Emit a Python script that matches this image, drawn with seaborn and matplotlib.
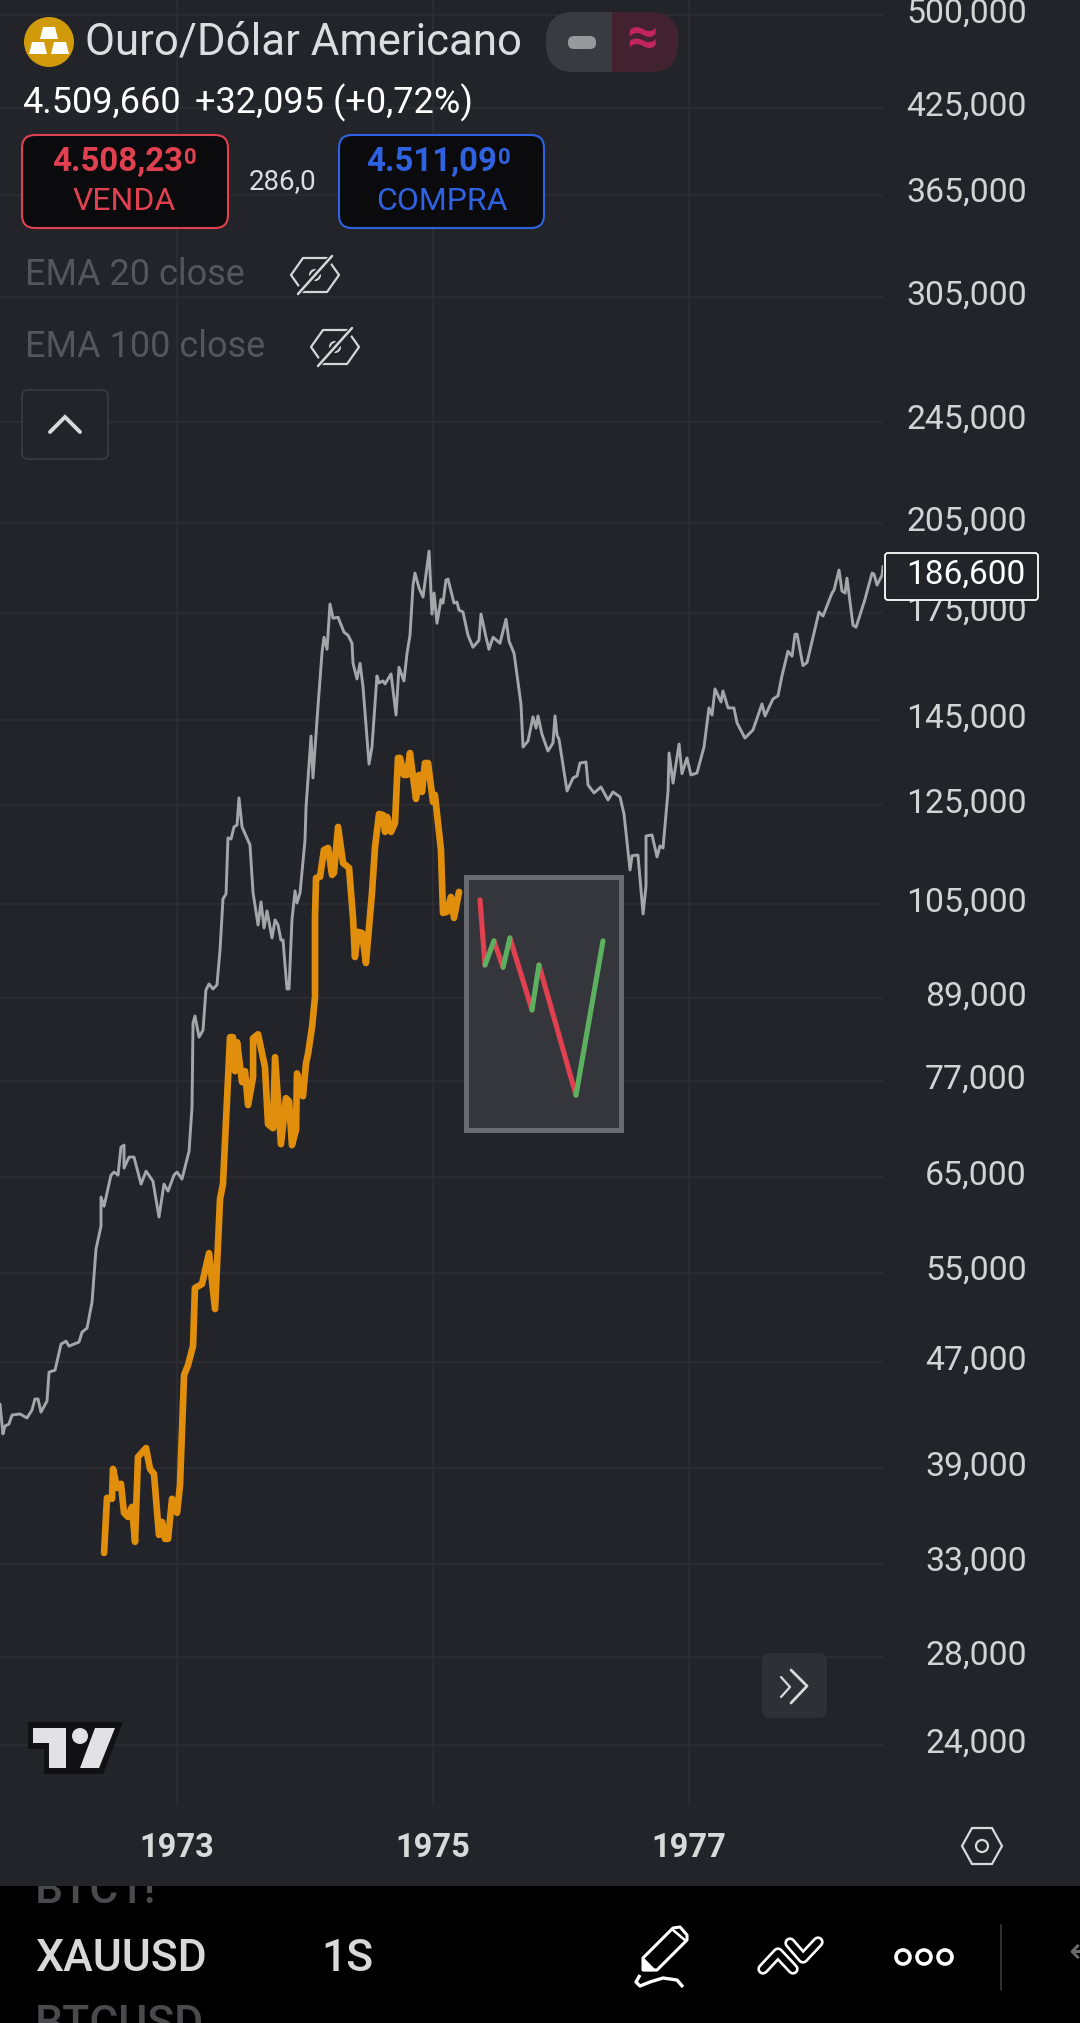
import matplotlib
matplotlib.use('Agg')
import matplotlib.pyplot as plt
from matplotlib.patches import Rectangle, FancyBboxPatch, Circle, Polygon
from matplotlib.ticker import FixedLocator, FixedFormatter, NullLocator
from matplotlib.transforms import ScaledTranslation
import pandas as pd
import seaborn as sns

BG = '#22242a'
GRID = '#2d2f35'

# weekly close of the grey comparison symbol
grey_years = [1971.617, 1971.640, 1971.656, 1971.687, 1971.711, 1971.773, 1971.828, 1971.867, 1971.890, 1971.914,
              1971.937, 1971.984, 1972.000, 1972.047, 1972.094, 1972.133, 1972.156, 1972.234, 1972.258, 1972.297,
              1972.336, 1972.367, 1972.406, 1972.406, 1972.430, 1972.484, 1972.508, 1972.539, 1972.562, 1972.586,
              1972.586, 1972.625, 1972.664, 1972.719, 1972.758, 1972.812, 1972.859, 1972.898, 1972.930, 1972.976,
              1973.000, 1973.039, 1973.094, 1973.117, 1973.125, 1973.140, 1973.172, 1973.203, 1973.226, 1973.250,
              1973.281, 1973.312, 1973.336, 1973.359, 1973.383, 1973.398, 1973.422, 1973.445, 1973.469, 1973.484,
              1973.508, 1973.570, 1973.594, 1973.633, 1973.656, 1973.680, 1973.703, 1973.742, 1973.766, 1973.789,
              1973.812, 1973.828, 1973.859, 1973.875, 1973.898, 1973.922, 1973.937, 1973.961, 1974.000, 1974.008,
              1974.047, 1974.062, 1974.101, 1974.133, 1974.148, 1974.172, 1974.195, 1974.219, 1974.258, 1974.305,
              1974.336, 1974.367, 1974.375, 1974.406, 1974.430, 1974.453, 1974.500, 1974.523, 1974.562, 1974.578,
              1974.609, 1974.625, 1974.672, 1974.711, 1974.734, 1974.773, 1974.797, 1974.820, 1974.844, 1974.859,
              1974.891, 1974.922, 1974.969, 1974.992, 1975.008, 1975.031, 1975.062, 1975.078, 1975.101, 1975.117,
              1975.164, 1975.187, 1975.203, 1975.234, 1975.273, 1975.312, 1975.359, 1975.375, 1975.414, 1975.437,
              1975.469, 1975.523, 1975.570, 1975.594, 1975.633, 1975.687, 1975.703, 1975.742, 1975.781, 1975.805,
              1975.820, 1975.851, 1975.898, 1975.937, 1975.953, 1975.969, 1975.984, 1976.047, 1976.094, 1976.125,
              1976.148, 1976.195, 1976.211, 1976.258, 1976.312, 1976.367, 1976.406, 1976.461, 1976.492, 1976.539,
              1976.555, 1976.601, 1976.641, 1976.664, 1976.664, 1976.711, 1976.750, 1976.773, 1976.797, 1976.836,
              1976.844, 1976.875, 1976.922, 1976.945, 1976.984, 1977.015, 1977.062, 1977.117, 1977.156, 1977.180,
              1977.203, 1977.250, 1977.265, 1977.305, 1977.351, 1977.375, 1977.437, 1977.500, 1977.570, 1977.594,
              1977.656, 1977.695, 1977.726, 1977.773, 1977.805, 1977.828, 1977.844, 1977.890, 1977.922, 1978.015,
              1978.047, 1978.117, 1978.133, 1978.172, 1978.195, 1978.219, 1978.234, 1978.281, 1978.305, 1978.375,
              1978.430, 1978.445, 1978.469, 1978.508, 1978.516]
grey_prices = [43660, 41430, 42010, 42160, 42830, 42910, 42610, 43210, 44050, 44050,
               43050, 43890, 46180, 46340, 48510, 48760, 48340, 48680, 49540, 49890,
               52230, 57310, 59670, 62790, 61800, 65260, 65610, 65260, 68550, 68790,
               66070, 67360, 67360, 64240, 65720, 64570, 60630, 64240, 63450, 65260,
               65610, 64810, 68070, 73530, 85210, 86300, 83150, 84170, 90330, 91290,
               90490, 91130, 96900, 105990, 106920, 117960, 117750, 120260, 120690, 126540,
               120260, 116520, 107110, 101250, 105430, 100720, 103770, 98960, 102140, 101250,
               98610, 98610, 90490, 90490, 102140, 107480, 105240, 107110, 117540, 124560,
               141070, 131070, 148470, 163430, 167790, 164290, 177850, 173480, 173780, 169260,
               168380, 166030, 160300, 155950, 160300, 153770, 134300, 138380, 156770, 154860,
               155400, 154580, 157320, 146390, 159170, 155400, 163140, 168380, 183880, 187800,
               182920, 180050, 195160, 174750, 181320, 171970, 179270, 178160, 185490, 185820,
               178160, 178470, 175990, 175380, 168380, 164870, 166890, 174750, 167790, 164290,
               167790, 166030, 173170, 166610, 163140, 149250, 138380, 139840, 145890, 143070,
               146140, 141530, 137410, 139350, 146140, 141280, 140320, 128100, 131070, 131530,
               134540, 134780, 129470, 127650, 129000, 126100, 127880, 126760, 123040, 111510,
               114350, 114480, 103230, 108440, 118370, 118580, 114090, 116310, 115910, 128100,
               136930, 129890, 139110, 132050, 135750, 131760, 132200, 138380, 148210, 146390,
               153220, 149770, 152680, 148210, 148210, 144370, 140560, 142600, 149250, 146140,
               150570, 151370, 156770, 163710, 162280, 168680, 168680, 159640, 160500, 175380,
               174160, 181320, 182290, 188790, 181960, 181320, 186130, 171370, 170770, 179410,
               187800, 187470, 183880, 187140, 190100]

# source window of the orange copy
gold_years = [1972.430, 1972.453, 1972.492, 1972.500, 1972.531, 1972.562, 1972.586, 1972.617, 1972.648, 1972.672,
              1972.695, 1972.758, 1972.789, 1972.820, 1972.859, 1972.883, 1972.906, 1972.930, 1972.961, 1973.000,
              1973.023, 1973.055, 1973.086, 1973.125, 1973.140, 1973.195, 1973.250, 1973.297, 1973.336, 1973.359,
              1973.414, 1973.437, 1973.453, 1973.469, 1973.508, 1973.531, 1973.555, 1973.594, 1973.594, 1973.633,
              1973.687, 1973.711, 1973.750, 1973.766, 1973.812, 1973.851, 1973.875, 1973.898, 1973.930, 1973.937,
              1973.984, 1974.008, 1974.023, 1974.055, 1974.078, 1974.078, 1974.086, 1974.117, 1974.148, 1974.180,
              1974.211, 1974.226, 1974.258, 1974.297, 1974.344, 1974.375, 1974.390, 1974.414, 1974.445, 1974.476,
              1974.523, 1974.547, 1974.578, 1974.609, 1974.625, 1974.641, 1974.672, 1974.703, 1974.726, 1974.742,
              1974.773, 1974.797, 1974.820, 1974.867, 1974.891, 1974.914, 1974.937, 1974.961, 1975.000, 1975.015,
              1975.062, 1975.078, 1975.109, 1975.140, 1975.164, 1975.203]
gold_prices = [33620, 37030, 36970, 38960, 37690, 37960, 36070, 35810, 36450, 34280,
               39790, 40420, 38960, 38620, 34700, 35500, 34460, 34460, 36970, 36070,
               37830, 45940, 46760, 48340, 53530, 53900, 56910, 51590, 62570, 64240,
               83150, 83150, 78330, 82410, 76840, 78330, 73800, 77510, 82980, 83570,
               78900, 71370, 70870, 80270, 68910, 74700, 74310, 68790, 70670, 78010,
               74960, 79430, 80700, 84630, 89230, 102690, 109970, 110170, 115500, 115910,
               110560, 110950, 120260, 112890, 111910, 102510, 95710, 100030, 99840, 94700,
               107110, 116110, 123040, 122830, 119220, 122400, 119220, 121110, 135750, 135750,
               131760, 131760, 136930, 126320, 131760, 127880, 134540, 134540, 125660, 127210,
               115500, 103420, 103600, 106360, 102510, 107300]

# bars pattern drawing and its frame
zigzag_years = [1975.367, 1975.406, 1975.476, 1975.547, 1975.601, 1975.773, 1975.828, 1976.117, 1976.328]
zigzag_prices = [105800, 94380, 98460, 94000, 98960, 87210, 94380, 75100, 98460]
box_years = [1975.261, 1976.472]
box_prices = [70630, 110060]

price_ticks = [24000, 28000, 33000, 39000, 47000, 55000, 65000, 77000, 89000, 105000,
               125000, 145000, 175000, 205000, 245000, 305000, 365000, 425000, 500000]
price_labels = ['24,000', '28,000', '33,000', '39,000', '47,000', '55,000', '65,000', '77,000', '89,000', '105,000',
                '125,000', '145,000', '175,000', '205,000', '245,000', '305,000', '365,000', '425,000', '500,000']
year_ticks = [1973, 1975, 1977]
last_price = '186,600'

sns.set_theme(style='dark')
plt.rcParams['font.family'] = ['Roboto', 'DejaVu Sans']

fig = plt.figure(figsize=(10.8, 20.23), dpi=100, facecolor=BG)

# chart pane, the plot area stops short of the price scale
ax = fig.add_axes([0, 217 / 2023, 883 / 1080, 1806 / 2023], facecolor=BG)
ax.set_yscale('log')

grey_df = pd.DataFrame({'year': grey_years, 'price': grey_prices})
gold_df = pd.DataFrame({'year': gold_years, 'price': gold_prices})
sns.lineplot(data=grey_df, x='year', y='price', estimator=None, sort=False, ax=ax,
             color='#a5a6aa', linewidth=2.1, zorder=3)
sns.lineplot(data=gold_df, x='year', y='price', estimator=None, sort=False, ax=ax,
             color='#e08e0b', linewidth=4.8, zorder=4, solid_capstyle='round', solid_joinstyle='round')

ax.add_patch(Rectangle((box_years[0], box_prices[0]), box_years[1] - box_years[0], box_prices[1] - box_prices[0],
                       facecolor='#35363b', edgecolor='#6a6b70', linewidth=3.6, zorder=2))

# every leg of the zigzag is coloured by its direction
rows = []
for i in range(len(zigzag_years) - 1):
    move = 'up' if zigzag_prices[i + 1] > zigzag_prices[i] else 'down'
    rows.append({'leg': i, 'move': move, 'year': zigzag_years[i], 'price': zigzag_prices[i]})
    rows.append({'leg': i, 'move': move, 'year': zigzag_years[i + 1], 'price': zigzag_prices[i + 1]})
zig_df = pd.DataFrame(rows)
sns.lineplot(data=zig_df, x='year', y='price', hue='move', hue_order=['down', 'up'], units='leg',
             estimator=None, sort=False, ax=ax, palette={'down': '#e0404f', 'up': '#5cb060'},
             linewidth=3.7, legend=False, zorder=5, solid_capstyle='round')

ax.set_xlim(1971.617, 1971.617 + 883 / 128)
ax.set_ylim(21560, 513600)
ax.set_xlabel('')
ax.set_ylabel('')
ax.yaxis.set_major_locator(FixedLocator(price_ticks))
ax.yaxis.set_major_formatter(FixedFormatter(price_labels))
ax.yaxis.set_minor_locator(NullLocator())
ax.set_xticks(year_ticks)
ax.set_xticklabels([str(y) for y in year_ticks], fontweight='bold', fontsize=23.5, color='#d8d9db')
ax.grid(True, color=GRID, linewidth=1.1)
ax.set_axisbelow(True)
for s in ax.spines.values():
    s.set_visible(False)
ax.tick_params(axis='x', length=0, pad=19)
ax.tick_params(axis='y', length=0, left=False, labelleft=False, right=False, labelright=True,
               pad=103.5, labelsize=24.3, labelcolor='#d2d3d5')
# price labels sit a little above their grid lines
nudge = ScaledTranslation(0, 5 / 100, fig.dpi_scale_trans)
for t in ax.yaxis.get_major_ticks():
    t.label2.set_ha('right')
    t.label2.set_transform(t.label2.get_transform() + nudge)

# interface elements on top, in figure pixels
ui = fig.add_axes([0, 0, 1, 1], facecolor='none')
ui.set_xlim(0, 1080)
ui.set_ylim(2023, 0)
ui.axis('off')


def label(x, y, s, size, color, ha='left', weight='normal', **kw):
    return ui.text(x, y, s, fontsize=size, color=color, ha=ha, va='center', fontweight=weight, **kw)


def rbox(x0, y0, x1, y1, r, fc, ec='none', lw=0, z=1):
    p = FancyBboxPatch((x0 + r, y0 + r), x1 - x0 - 2 * r, y1 - y0 - 2 * r,
                       boxstyle=f'round,pad={r},rounding_size={r}', fc=fc, ec=ec, lw=lw, zorder=z)
    ui.add_patch(p)
    return p


def eye(cx, cy):
    c = '#d5d6d8'
    ui.add_patch(Polygon([(cx - 24, cy), (cx - 12, cy - 17), (cx + 12, cy - 17), (cx + 24, cy),
                          (cx + 12, cy + 17), (cx - 12, cy + 17)], closed=True, fc='none', ec=c, lw=1.6,
                         joinstyle='round'))
    ui.add_patch(Circle((cx, cy), 5, fc='none', ec=c, lw=1.5))
    ui.plot([cx - 18, cx + 18], [cy + 18, cy - 18], color=BG, lw=5, solid_capstyle='butt')
    ui.plot([cx - 17, cx + 17], [cy + 19, cy - 19], color=c, lw=1.8)


# header
ui.add_patch(Circle((49, 42), 25, fc='#d19a0a', ec='none'))
for bx, by in [(49, 33), (38, 48), (60, 48)]:
    ui.add_patch(Polygon([(bx - 6, by - 6), (bx + 6, by - 6), (bx + 9, by + 6), (bx - 9, by + 6)], fc='white', ec='none'))
label(85, 42, 'Ouro/Dólar Americano', 31.5, '#dcdde0')

rbox(546, 12, 678, 72, 28, '#3a3b40')
clip = Rectangle((612, 12), 66, 60, transform=ui.transData)
right_pill = rbox(546, 12, 678, 72, 28, '#43222f', z=1.1)
right_pill.set_clip_path(clip)
rbox(568, 36, 596, 49, 6, '#98999c', z=2)
label(642, 40, '≈', 40, '#c2255c', ha='center', weight='bold', zorder=2)

label(22, 103, '4.509,660', 26, 'white')
label(195, 103, '+32,095 (+0,72%)', 26, 'white')

rbox(22, 135, 228, 228, 13, '#0b0b0d', '#e0404f', 1.5)
label(183, 162, '4.508,23', 23.8, '#e0404f', ha='right', weight='bold')
label(184, 158, '0', 16, '#e0404f', weight='bold')
label(124, 201, 'VENDA', 23, '#e0404f', ha='center')
label(283, 182, '286,0', 20, '#dcdde0', ha='center')
rbox(339, 135, 544, 228, 13, '#0b0b0d', '#2f62e0', 1.5)
label(497, 162, '4.511,09', 23.8, '#2f62e0', ha='right', weight='bold')
label(498, 158, '0', 16, '#2f62e0', weight='bold')
label(442, 201, 'COMPRA', 23, '#2f62e0', ha='center')

label(25, 275, 'EMA 20 close', 26, '#55565b')
eye(315, 275)
label(25, 347, 'EMA 100 close', 26, '#55565b')
eye(335, 347)

rbox(22, 390, 108, 459, 6, BG, '#3b3c42', 1.2)
ui.plot([50, 65, 80], [432, 417, 432], color='#d8d9db', lw=2.8, solid_joinstyle='miter')

# current price tag
rbox(885, 553, 1038, 600, 3, BG, 'white', 1.3, z=3)
label(1025, 575, last_price, 24, 'white', ha='right', zorder=4)

# go to realtime button
rbox(762, 1653, 827, 1718, 8, '#2f3035')
ui.plot([781, 790, 781], [1677, 1687, 1697], color='#d8d9db', lw=1.6)
ui.plot([791, 807, 791], [1670, 1686, 1703], color='#d8d9db', lw=2)

# logo
ui.add_patch(Polygon([(28, 1722), (123, 1722), (103, 1774), (44, 1774), (44, 1749), (28, 1749)], fc='#111113', ec='none'))
ui.add_patch(Polygon([(33, 1728), (66, 1728), (66, 1768), (49, 1768), (49, 1743), (33, 1743)], fc='#e2e2e4', ec='none'))
ui.add_patch(Circle((80, 1736), 8, fc='#e2e2e4', ec='none'))
ui.add_patch(Polygon([(80, 1768), (99, 1768), (115, 1728), (95, 1728)], fc='#e2e2e4', ec='none'))

# settings hexagon
ui.add_patch(Polygon([(962, 1846), (972, 1828), (992, 1828), (1002, 1846), (992, 1864), (972, 1864)],
                     fc='none', ec='#d8d9db', lw=1.6))
ui.add_patch(Circle((982, 1846), 6, fc='none', ec='#d8d9db', lw=1.6))

# bottom toolbar
panel = Rectangle((0, 1886), 1080, 137, fc='black', ec='none', zorder=1)
ui.add_patch(panel)
t = label(35, 1891, 'BTC1!', 32, '#4a4a4c', weight=500, zorder=2, clip_on=True)
t.set_clip_path(panel)
label(35, 2025, 'BTCUSD', 32, '#4a4a4c', weight=500, zorder=2)
label(35, 1959, 'XAUUSD', 32, '#d8d8d8', weight=500, zorder=2)
label(321, 1959, '1S', 32, '#d8d8d8', weight=500, zorder=2)

# pen
ui.add_patch(Polygon([(643, 1958), (673, 1928), (680, 1927), (687, 1935), (687, 1940), (657, 1970), (643, 1970)],
                     fc='none', ec='white', lw=2.2, zorder=2, joinstyle='round'))
ui.add_patch(Polygon([(643, 1958), (643, 1970), (655, 1970)], fc='white', ec='white', lw=1, zorder=2))
ui.plot([673, 686], [1930, 1941], color='white', lw=1.8, zorder=2)
ui.plot([640, 636, 640, 650, 663, 677, 683], [1975, 1982, 1986, 1982, 1978, 1980, 1987],
        color='white', lw=2.4, zorder=2, solid_capstyle='butt')
# trend lines
for xs, ys in [([763, 778, 793], [1969, 1953, 1969]), ([790, 803, 818], [1943, 1958, 1942])]:
    ui.plot(xs, ys, color='white', lw=8.2, zorder=2, solid_capstyle='round', solid_joinstyle='round')
    ui.plot(xs, ys, color='black', lw=4.4, zorder=2, solid_capstyle='round', solid_joinstyle='round')
# more
for cx in [903, 924, 945]:
    ui.add_patch(Circle((cx, 1957), 7, fc='none', ec='white', lw=2.6, zorder=2))
ui.plot([1001, 1001], [1925, 1990], color='#3a3a3c', lw=1.2, zorder=2)
label(1068, 1953, '←', 26, '#6a6a6c', zorder=2)

fig.savefig('out.png', dpi=100, facecolor=BG)
